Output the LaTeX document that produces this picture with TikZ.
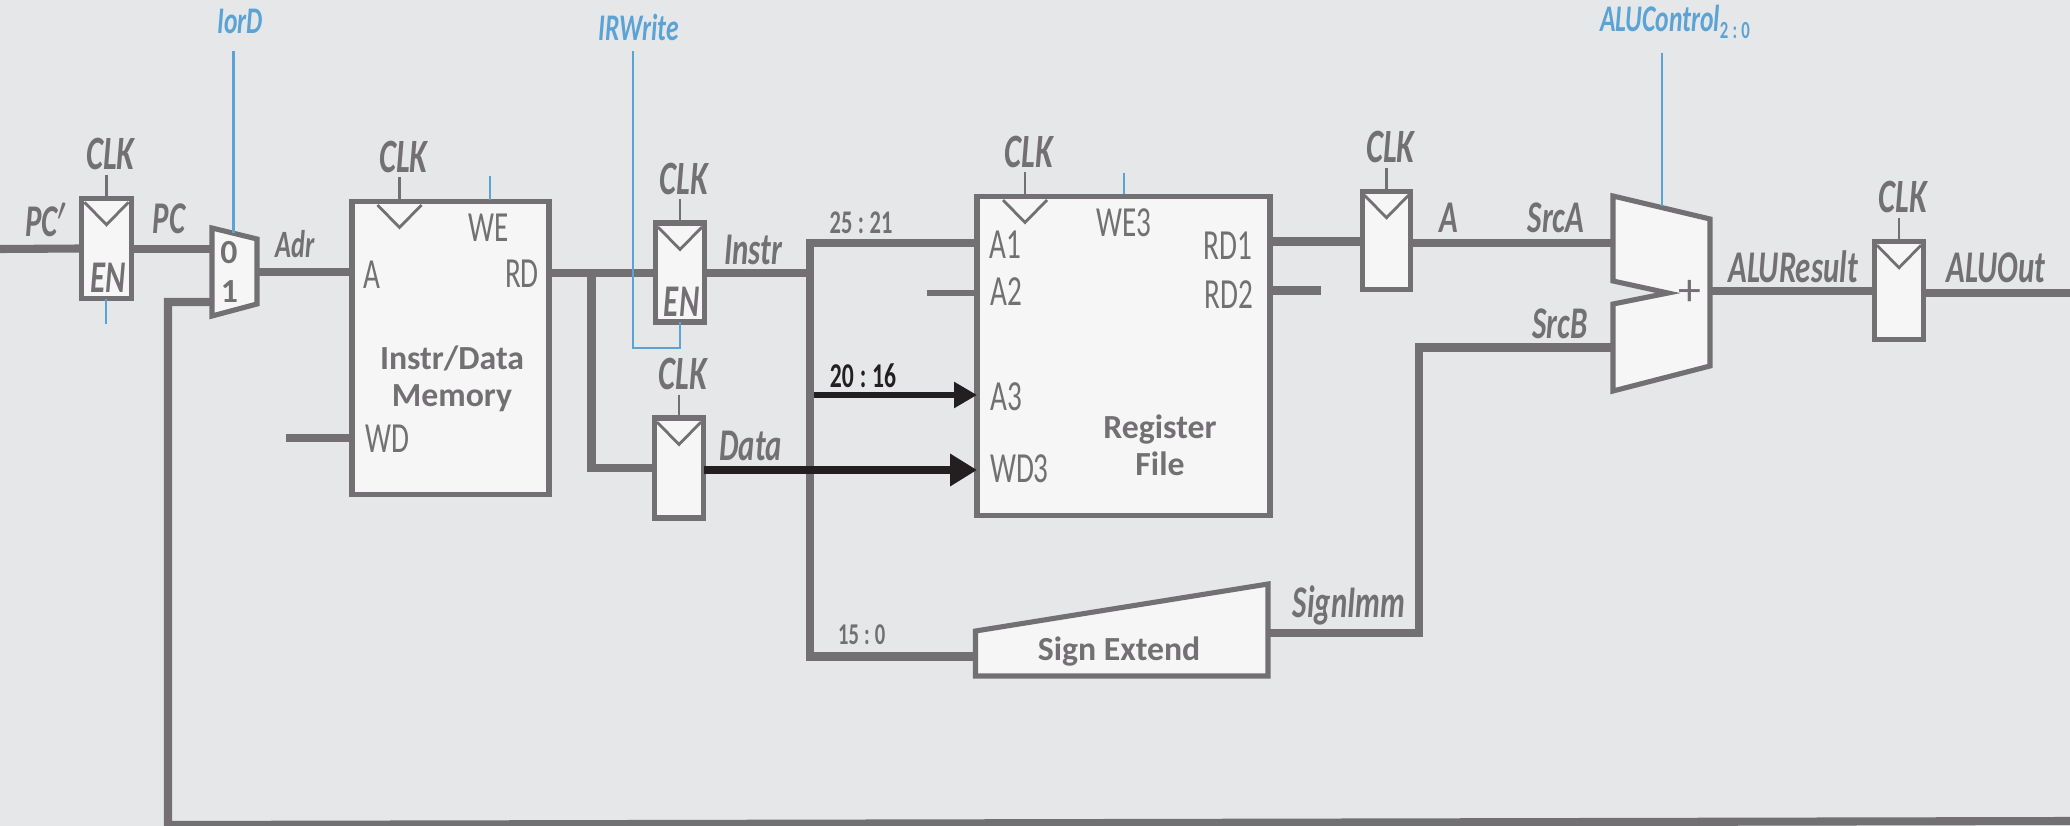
\documentclass[tikz,border=0pt]{standalone}
\usepackage{fontspec}
\setmainfont[FakeStretch=0.68]{Carlito}
\newfontfamily\wfont{Carlito}
\usepackage{xcolor}
\usepackage{tikz}
\usetikzlibrary{arrows.meta,positioning,calc}
\definecolor{bgc}{HTML}{E6E7E9}
\definecolor{blockc}{HTML}{F6F6F6}
\definecolor{wirec}{HTML}{727072}
\definecolor{ctrlc}{HTML}{5BA3D5}
\definecolor{blackc}{HTML}{231F20}

\begin{document}
\begin{tikzpicture}[
  reg/.style={rectangle,draw=wirec,fill=blockc,line width=1.45pt,inner sep=0pt,outer sep=0pt},
  block/.style={draw=wirec,fill=blockc,line width=1.45pt,line join=miter},
  wire/.style={draw=wirec,line width=2.3pt,line join=miter},
  thinw/.style={draw=wirec,line width=.8pt},
  ctrl/.style={draw=ctrlc,line width=.8pt},
  lab/.style={inner sep=0pt,text=wirec,font=\fontsize{12.9}{13}\selectfont\bfseries\itshape},
  clk/.style={lab,font=\fontsize{13.6}{14}\selectfont\bfseries\itshape},
  clab/.style={lab,text=ctrlc,font=\fontsize{10.7}{11}\selectfont\bfseries\itshape},
  port/.style={inner sep=0pt,text=wirec,font=\fontsize{12.2}{13}\selectfont},
  title/.style={inner sep=0pt,text=wirec,font=\fontsize{9.6}{10.6}\selectfont\wfont\bfseries},
  bits/.style={inner sep=0pt,text=wirec,font=\fontsize{9.4}{10}\selectfont\bfseries}]
 \useasboundingbox (0,0) rectangle (20.7,-8.26);
 \fill[bgc] (0,0) rectangle (20.7,-8.26);
 % state elements
 \node[reg,minimum width=.50cm,minimum height=1.005cm] (regPC) at (1.065,-2.485) {};
 \node[reg,minimum width=.49cm,minimum height=.99cm] (regInstr) at (6.80,-2.725) {};
 \node[reg,minimum width=.49cm,minimum height=1.00cm] (regData) at (6.79,-4.68) {};
 \node[reg,minimum width=.48cm,minimum height=.985cm] (regA) at (13.865,-2.405) {};
 \node[reg,minimum width=.485cm,minimum height=.985cm] (regOut) at (18.99,-2.905) {};
 \node[reg,minimum width=1.97cm,minimum height=2.935cm] (mem) at (4.505,-3.48) {};
 \node[reg,minimum width=2.93cm,minimum height=3.195cm] (rf) at (11.235,-3.56) {};
 \draw[block] (2.12,-2.28) -- (2.57,-2.39) -- (2.57,-3.04) -- (2.12,-3.16) -- cycle;
 \draw[block] (9.755,-6.31) -- (12.68,-5.84) -- (12.68,-6.76) -- (9.755,-6.76) -- cycle;
 \draw[block] (16.13,-1.96) -- (17.10,-2.19) -- (17.10,-3.66) -- (16.13,-3.91) -- (16.13,-3.04)
   -- (16.68,-2.93) -- (16.13,-2.81) -- cycle;
 % clock inputs
 \coordinate (ckPC) at (regPC.north);
 \coordinate (ckInstr) at (regInstr.north);
 \coordinate (ckData) at (regData.north);
 \coordinate (ckA) at (regA.north);
 \coordinate (ckOut) at (regOut.north);
 \coordinate (ckMem) at (3.995,-2.01);
 \coordinate (ckRf) at (10.25,-1.96);
 \foreach \c in {ckPC,ckInstr,ckData,ckA,ckOut,ckMem,ckRf} {
   \node[clk] (lab\c) at ([xshift=.04cm,yshift=.44cm]\c) {CLK};
   \draw[thinw] ([yshift=.235cm]\c) -- (\c);
   \draw[thinw] ([xshift=-.22cm,yshift=-.04cm]\c) -- ([yshift=-.265cm]\c) -- ([xshift=.22cm,yshift=-.04cm]\c);
 }
 % port ends
 \coordinate (pcin) at (0,-2.49);
 \coordinate (pcout) at (1.315,-2.49);
 \coordinate (mux0) at (2.12,-2.49);
 \coordinate (mux1) at (2.12,-3.02);
 \coordinate (muxout) at (2.57,-2.72);
 \coordinate (memA) at (3.525,-2.72);
 \coordinate (memWDa) at (2.86,-4.38);
 \coordinate (memWD) at (3.52,-4.38);
 \coordinate (memRD) at (5.49,-2.73);
 \coordinate (inInstr) at (6.555,-2.73);
 \coordinate (brData) at (5.915,-2.73);
 \coordinate (inData) at (6.545,-4.68);
 \coordinate (outInstr) at (7.045,-2.73);
 \coordinate (busIr) at (8.10,-2.73);
 \coordinate (rfA1) at (9.77,-2.43);
 \coordinate (rfA2a) at (9.265,-2.93);
 \coordinate (rfA2) at (9.77,-2.93);
 \coordinate (rfA3a) at (8.14,-3.95);
 \coordinate (rfA3) at (9.77,-3.95);
 \coordinate (outData) at (7.035,-4.70);
 \coordinate (rfWD) at (9.77,-4.70);
 \coordinate (seIn) at (9.755,-6.565);
 \coordinate (seOut) at (12.68,-6.33);
 \coordinate (rfRD1) at (12.70,-2.415);
 \coordinate (inA) at (13.625,-2.415);
 \coordinate (rfRD2) at (12.70,-2.905);
 \coordinate (rfRD2b) at (13.21,-2.905);
 \coordinate (outA) at (14.105,-2.43);
 \coordinate (aluA) at (16.13,-2.43);
 \coordinate (aluB) at (16.13,-3.475);
 \coordinate (aluOut) at (17.10,-2.91);
 \coordinate (inOut) at (18.7475,-2.91);
 \coordinate (outOut) at (19.2325,-2.93);
 \coordinate (outOutb) at (20.7,-2.93);
 \coordinate (fbEnd) at (20.7,-8.21);
 % wires
 \foreach \a/\b in {pcin/regPC.west,pcout/mux0,muxout/memA,memWDa/memWD,memRD/inInstr,
     outInstr/busIr,rfRD1/inA,rfRD2/rfRD2b,outA/aluA,aluOut/inOut,outOut/outOutb}
   \draw[wire] (\a)--(\b);
 \draw[wire,line width=1.5pt] (rfA2a)--(rfA2);
 \draw[wire] (brData) |- (inData);
 \draw[wire] (rfA1) -- (8.10,-2.43) -- (8.10,-6.565) -- (seIn);
 \draw[wire] (seOut) -| (14.19,-3.475) -- (aluB);
 \draw[wire] (mux1) -- (1.68,-3.02) -- (1.68,-8.25) -- (fbEnd);
 \draw[draw=blackc,line width=1.6pt,-{Triangle[length=.23cm,width=.25cm]}] (rfA3a) -- (rfA3);
 \draw[draw=blackc,line width=2.3pt,-{Triangle[length=.27cm,width=.31cm]}] (outData) -- (rfWD);
 % control lines
 \draw[ctrl] (1.06,-2.99) -- (1.06,-3.24);
 \draw[ctrl] (2.335,-.51) -- (2.335,-2.33);
 \draw[ctrl] (4.90,-1.76) -- (4.90,-2.00);
 \draw[ctrl] (6.33,-.51) -- (6.33,-3.48) -- (6.80,-3.48) -- (regInstr.south);
 \draw[ctrl] (11.24,-1.726) -- (11.24,-1.94);
 \draw[ctrl] (16.62,-.527) -- (16.62,-2.06);
 % labels
 \node[clab] (lIord) at (2.40,-.216) {IorD};
 \node[clab] (lIrw) at (6.39,-.276) {IRWrite};
 \node[clab] (lAluc) at (16.75,-.22) {ALUControl{\fontsize{7}{8}\selectfont\upshape\raisebox{-2pt}{2\,:\,0}}};
 \node[lab] (lPCn) at (.47,-2.20) {PC$'$};
 \node[lab] (lPC) at (1.69,-2.19) {PC};
 \node[lab] (lEnA) at (1.08,-2.78) {EN};
 \node[lab] (lEnB) at (6.816,-3.015) {EN};
 \node[lab,font=\fontsize{11}{12}\selectfont\bfseries\itshape] (lAdr) at (2.95,-2.44) {Adr};
 \node[lab] (lInstr) at (7.53,-2.496) {Instr};
 \node[lab] (lData) at (7.505,-4.46) {Data};
 \node[lab] (lImm) at (13.49,-6.05) {SignImm};
 \node[lab] (lA) at (14.49,-2.18) {A};
 \node[lab] (lSrcA) at (15.56,-2.177) {SrcA};
 \node[lab] (lSrcB) at (15.60,-3.24) {SrcB};
 \node[lab] (lRes) at (17.93,-2.667) {ALUResult};
 \node[lab] (lOut) at (19.96,-2.68) {ALUOut};
 \node[title] (m0) at (2.29,-2.53) {0};
 \node[title] (m1) at (2.295,-2.92) {1};
 \node[port] (pWE) at (4.89,-2.28) {WE};
 \node[port] (pA) at (3.72,-2.75) {A};
 \node[port] (pRD) at (5.22,-2.74) {RD};
 \node[port] (pWD) at (3.875,-4.39) {WD};
 \node[port] (pWE3) at (11.24,-2.23) {WE3};
 \node[port] (pA1) at (10.056,-2.45) {A1};
 \node[port] (pA2) at (10.066,-2.92) {A2};
 \node[port] (pA3) at (10.066,-3.967) {A3};
 \node[port] (pWD3) at (10.194,-4.69) {WD3};
 \node[port] (pRD1) at (12.28,-2.46) {RD1};
 \node[port] (pRD2) at (12.29,-2.95) {RD2};
 \node[title,align=center] (nMem) at (4.52,-3.785) {Instr/Data\\Memory};
 \node[title,align=center] (nRf) at (11.60,-4.45) {Register\\File};
 \node[title] (nSe) at (11.19,-6.52) {Sign Extend};
 \node[port,font=\fontsize{13}{14}\selectfont\wfont] (nPlus) at (16.90,-2.927) {+};
 \node[bits] (b1) at (8.61,-2.23) {25\,:\,21};
 \node[bits,text=blackc,font=\fontsize{9.9}{10}\selectfont\bfseries] (b2) at (8.63,-3.76) {20\,:\,16};
 \node[bits,font=\fontsize{8.6}{9}\selectfont\bfseries] (b3) at (8.617,-6.35) {15\,:\,0};
\end{tikzpicture}
\end{document}
